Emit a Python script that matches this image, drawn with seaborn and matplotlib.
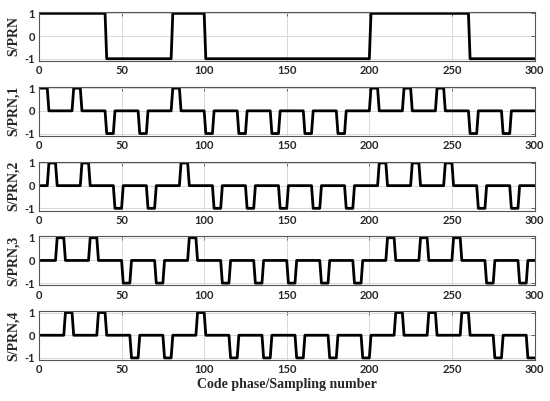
import numpy as np
import pandas as pd
import seaborn as sns
import matplotlib.pyplot as plt

# ---- data ----
chips = [1, 1, -1, -1, 1, -1, -1, -1, -1, -1, 1, 1, 1, -1, -1]  # PRN chip values
chip_len = 20                       # samples per chip
sub_offsets = [0, 5, 10, 15]        # start of each sub-pulse inside a chip
sub_width = 5                       # samples per sub-pulse
signal_names = ['S/PRN', 'S/PRN,1', 'S/PRN,2', 'S/PRN,3', 'S/PRN,4']
xticks = [0, 50, 100, 150, 200, 250, 300]
yticks = [-1, 0, 1]
xlabel = 'Code phase/Sampling number'

# ---- build the sampled waveforms from the chip data ----
n = np.arange(1, len(chips) * chip_len + 1)
idx = (n - 1) // chip_len
pos = (n - 1) % chip_len
prn = np.array(chips)[idx]
rows = [pd.DataFrame({'n': n, 'value': prn, 'signal': signal_names[0]})]
for k, off in enumerate(sub_offsets):
    gate = ((pos >= off) & (pos < off + sub_width)).astype(int)
    rows.append(pd.DataFrame({'n': n, 'value': prn * gate, 'signal': signal_names[k + 1]}))
df = pd.concat(rows, ignore_index=True)

sns.set_style('white')
fig = plt.figure(figsize=(5.5, 4.01), dpi=100)
W, H = 550.0, 401.0
left, right = 39.0, 534.5
top0, step, height = 12.0, 74.8, 49.0

tick_font = dict(family='Lato', weight='bold', size=8)
label_font = dict(family='Liberation Serif', weight='bold', size=10)

for i, name in enumerate(signal_names):
    t = top0 + i * step
    ax = fig.add_axes([left / W, 1 - (t + height) / H, (right - left) / W, height / H])
    sub = df[df['signal'] == name]
    sns.lineplot(data=sub, x='n', y='value', ax=ax, color='black',
                 linewidth=2.0, estimator=None, legend=False)
    ax.set_xlim(0, 300)
    ax.set_ylim(-1.1, 1.06)
    ax.set_xticks(xticks)
    ax.set_yticks(yticks)
    ax.set_xticklabels([str(v) for v in xticks], fontdict=tick_font)
    ax.set_yticklabels([str(v) for v in yticks], fontdict=tick_font)
    ax.grid(True, color='#d9d9d9', linewidth=0.7)
    ax.set_axisbelow(True)
    ax.tick_params(direction='in', length=3, width=0.6, color='#555555',
                   top=True, right=True, pad=3)
    for s in ax.spines.values():
        s.set_color('#555555')
        s.set_linewidth(0.8)
    ax.set_ylabel(name, fontdict=label_font)
    ax.yaxis.set_label_coords(-0.038, 0.5)
    if i == len(signal_names) - 1:
        ax.set_xlabel(xlabel, fontdict=label_font, labelpad=2)
    else:
        ax.set_xlabel('')

fig.savefig('out.png', dpi=100)
